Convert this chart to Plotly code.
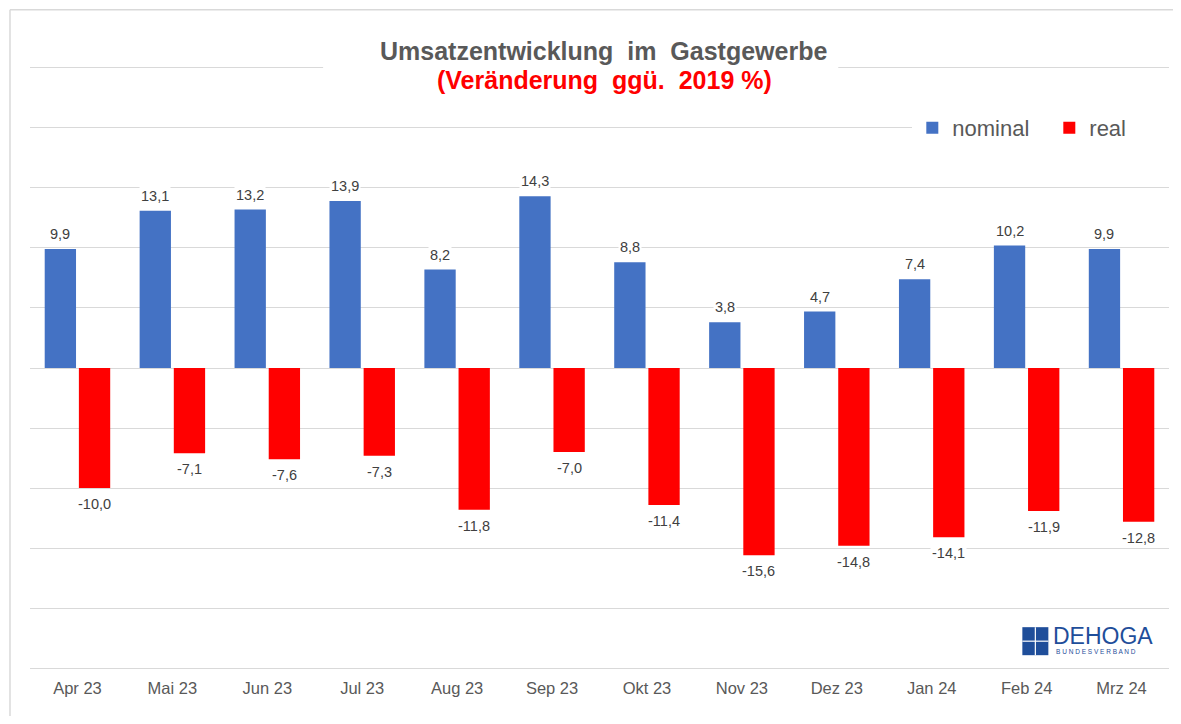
import plotly.graph_objects as go

categories = ["Apr 23", "Mai 23", "Jun 23", "Jul 23", "Aug 23", "Sep 23",
              "Okt 23", "Nov 23", "Dez 23", "Jan 24", "Feb 24", "Mrz 24"]
nominal = [9.9, 13.1, 13.2, 13.9, 8.2, 14.3, 8.8, 3.8, 4.7, 7.4, 10.2, 9.9]
real = [-10.0, -7.1, -7.6, -7.3, -11.8, -7.0, -11.4, -15.6, -14.8, -14.1, -11.9, -12.8]

# page body has an 8px margin; figure sized to fit the 1181x724 window
OFF = 8
W, H = 1165, 708
EXT = 0.15          # small range extension so edge gridlines are drawn
PXU = 12.0          # pixels per unit in the reference
L, R = 22, 4.4
T = 60 - EXT * PXU
B = H - (660 + EXT * PXU)
PW = W - L - R
PH = H - T - B

def px_x(px):
    return (px - OFF - L) / PW

def px_y(py):
    return (H - B - (py - OFF)) / PH

idx = list(range(len(categories)))
BW = 0.33
GREY = "#595959"
LABEL = "#404040"
FONT = "Liberation Sans, Arial, sans-serif"

fig = go.Figure()
fig.add_trace(go.Bar(x=idx, y=nominal, name="nominal", width=BW, offset=-0.345,
                     marker=dict(color="#4472c4", line=dict(width=0))))
fig.add_trace(go.Bar(x=idx, y=real, name="real", width=BW, offset=0.015,
                     marker=dict(color="#ff0000", line=dict(width=0))))

def fmt(v):
    return f"{v:.1f}".replace(".", ",")

annotations = []
for i, v in zip(idx, nominal):
    annotations.append(dict(x=i - 0.18, y=v, xref="x", yref="y", text=fmt(v),
                            showarrow=False, yanchor="bottom", yshift=5,
                            bgcolor="white", borderpad=1,
                            font=dict(size=14.5, color=LABEL, family=FONT)))
for i, v in zip(idx, real):
    annotations.append(dict(x=i + 0.18, y=v, xref="x", yref="y", text=fmt(v),
                            showarrow=False, yanchor="top", yshift=-6,
                            bgcolor="white", borderpad=1,
                            font=dict(size=14.5, color=LABEL, family=FONT)))

# Title
annotations.append(dict(x=px_x(603), y=px_y(51), xref="paper", yref="paper",
                        text="<b>Umsatzentwicklung  im  Gastgewerbe</b>", showarrow=False,
                        xanchor="center", yanchor="middle",
                        font=dict(size=25, color=GREY, family=FONT)))
annotations.append(dict(x=px_x(604), y=px_y(80), xref="paper", yref="paper",
                        text="<b>(Veränderung  ggü.  2019 %)</b>", showarrow=False,
                        xanchor="center", yanchor="middle",
                        font=dict(size=25, color="#ff0000", family=FONT)))
# Logo text
annotations.append(dict(x=px_x(1051), y=px_y(636), xref="paper", yref="paper",
                        text="DEHOGA", showarrow=False, xanchor="left", yanchor="middle",
                        font=dict(size=23, color="#1f4e9a", family=FONT)))
annotations.append(dict(x=px_x(1054), y=px_y(651), xref="paper", yref="paper",
                        text="B U N D E S V E R B A N D", showarrow=False,
                        xanchor="left", yanchor="middle",
                        font=dict(size=6.5, color="#1f4e9a", family=FONT)))

FRAME = "#d9d9d9"
shapes = [
    # outer frame (top and left edges visible in the window)
    dict(type="line", xref="paper", yref="paper", x0=px_x(10), x1=px_x(1190),
         y0=px_y(10), y1=px_y(10), line=dict(color=FRAME, width=1.5), layer="below"),
    dict(type="line", xref="paper", yref="paper", x0=px_x(10), x1=px_x(10),
         y0=px_y(10), y1=px_y(740), line=dict(color=FRAME, width=1.5), layer="below"),
    # white box behind title
    dict(type="rect", xref="paper", yref="paper", x0=px_x(323), x1=px_x(838),
         y0=px_y(94), y1=px_y(30), line=dict(width=0), fillcolor="white", layer="above"),
    # logo icon
    dict(type="rect", xref="paper", yref="paper", x0=px_x(1022), x1=px_x(1048),
         y0=px_y(655), y1=px_y(627), line=dict(width=0), fillcolor="#1f4e9a", layer="above"),
    dict(type="line", xref="paper", yref="paper", x0=px_x(1035), x1=px_x(1035),
         y0=px_y(655), y1=px_y(627), line=dict(color="white", width=1.2), layer="above"),
    dict(type="line", xref="paper", yref="paper", x0=px_x(1022), x1=px_x(1048),
         y0=px_y(641), y1=px_y(641), line=dict(color="white", width=1.2), layer="above"),
]

fig.update_layout(
    width=W, height=H,
    margin=dict(l=L, r=R, t=T, b=B, pad=0, autoexpand=False),
    paper_bgcolor="white", plot_bgcolor="white",
    barmode="overlay",
    font=dict(family=FONT, color=GREY),
    showlegend=True,
    legend=dict(orientation="h", x=px_x(912), y=px_y(128), xanchor="left", yanchor="middle",
                bgcolor="white", font=dict(size=22, color=GREY, family=FONT),
                itemwidth=30, entrywidth=92, entrywidthmode="pixels",
                traceorder="normal"),
    annotations=annotations,
    shapes=shapes,
    xaxis=dict(tickmode="array", tickvals=idx, ticktext=categories,
               range=[-0.5, len(categories) - 0.5], showgrid=False, zeroline=False,
               showline=False, ticks="outside", ticklen=3, tickcolor="rgba(0,0,0,0)",
               tickfont=dict(size=16.5, color=GREY, family=FONT)),
    yaxis=dict(range=[-25 - EXT, 25 + EXT], tickvals=[-25, -20, -15, -10, -5, 0, 5, 10, 15, 20, 25],
               showticklabels=False, showgrid=True,
               gridcolor="#d9d9d9", gridwidth=1, zeroline=True, zerolinecolor="#d9d9d9",
               zerolinewidth=1, showline=False, ticks=""),
)

fig.write_html("out.html")
